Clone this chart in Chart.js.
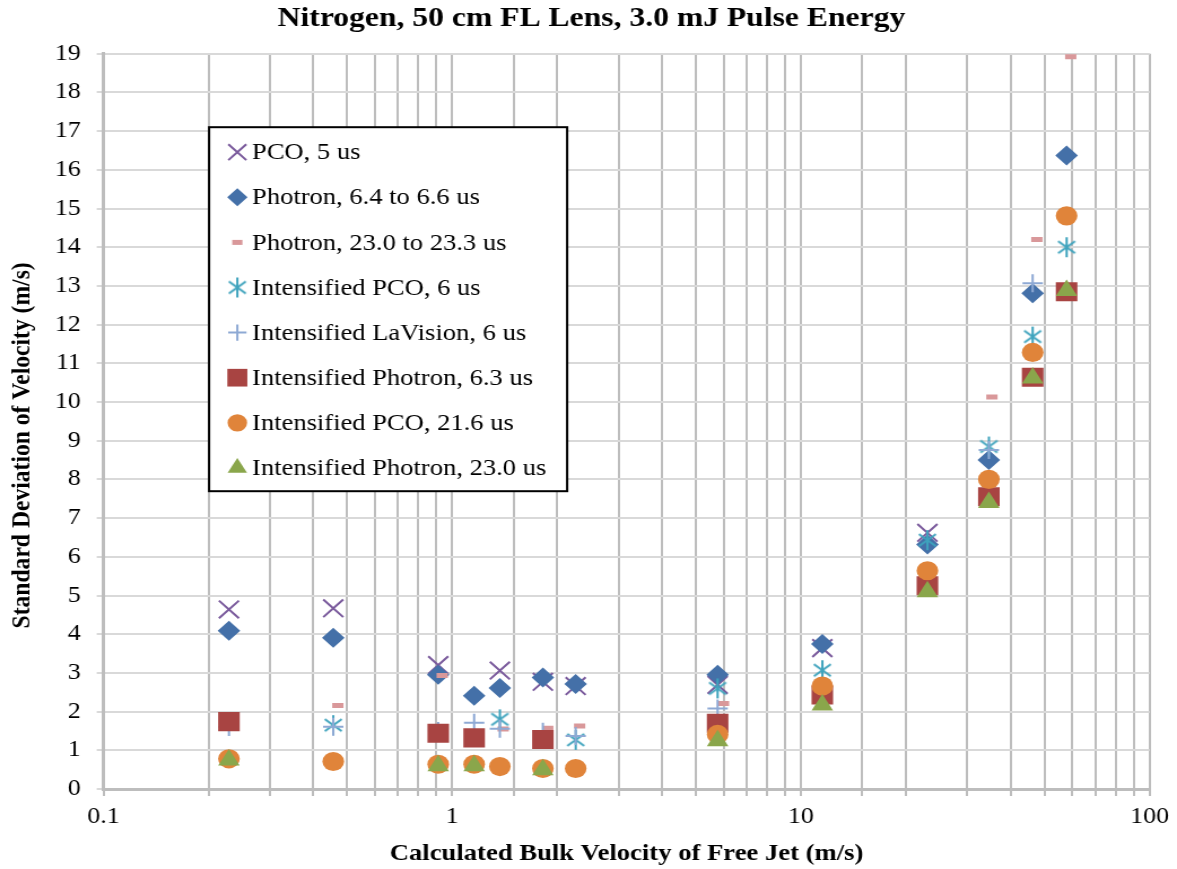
<!DOCTYPE html>
<html><head><meta charset="utf-8">
<script src="https://cdn.jsdelivr.net/npm/chart.js@4/dist/chart.umd.min.js"></script>
<style>html,body{margin:0;padding:0;background:#fff;overflow:hidden}canvas{display:block}</style>
</head><body>
<canvas id="c" width="1042" height="869" style="width:1177px;height:869px"></canvas>
<script>
const chartTitle = 'Nitrogen, 50 cm FL Lens, 3.0 mJ Pulse Energy';
const xTitle = 'Calculated Bulk Velocity of Free Jet (m/s)';
const yTitle = 'Standard Deviation of Velocity (m/s)';
const xTickLabels = [0.1, 1, 10, 100];

const bulkVelocity = [0.229, 0.456, 0.912, 1.156, 1.37, 1.82, 2.26, 5.77, 11.52, 23.06, 34.6, 46.2, 57.8];
const bulkVelocityPhotron23 = [0.47, 0.936, 1.40, 1.88, 2.32, 6.0, 35.3, 47.5, 59.4];

const seriesNames = [
  'PCO, 5 us',
  'Photron, 6.4 to 6.6 us',
  'Photron, 23.0 to 23.3 us',
  'Intensified PCO, 6 us',
  'Intensified LaVision, 6 us',
  'Intensified Photron, 6.3 us',
  'Intensified PCO, 21.6 us',
  'Intensified Photron, 23.0 us'
];
const pco5 =          [4.64, 4.67, 3.20, null, 3.06, 2.77, 2.66, 2.69, 3.64, 6.62, null, null, null];
const photron6 =      [4.09, 3.91, 2.95, 2.41, 2.61, 2.88, 2.71, 2.95, 3.75, 6.32, 8.50, 12.81, 16.37];
const photron23 =     [2.16, 2.93, 1.55, 1.57, 1.63, 2.21, 10.13, 14.2, 18.92];
const intPco6 =       [null, 1.65, null, null, 1.80, null, 1.27, 2.60, 3.07, 6.43, 8.85, 11.69, 14.0];
const intLaVision6 =  [1.60, 1.61, 1.50, 1.71, 1.56, 1.48, 1.37, 2.08, null, null, 8.76, 13.07, null];
const intPhotron63 =  [1.74, null, 1.44, 1.32, null, 1.28, null, 1.70, 2.43, 5.25, 7.55, 10.64, 12.85];
const intPco216 =     [0.78, 0.71, 0.64, 0.64, 0.58, 0.53, 0.53, 1.41, 2.66, 5.64, 8.00, 11.28, 14.81];
const intPhotron230 = [0.75, null, 0.60, 0.60, null, 0.50, null, 1.25, 2.17, 5.10, 7.40, 10.62, 12.88];

function pts(xs, ys) {
  const out = [];
  for (let i = 0; i < ys.length; i++) if (ys[i] !== null) out.push({x: xs[i], y: ys[i]});
  return out;
}

// asterisk marker (X plus vertical bar)
function makeAsterisk(color) {
  const c = document.createElement('canvas');
  c.width = 20; c.height = 22;
  const g = c.getContext('2d');
  g.strokeStyle = color; g.lineWidth = 2;
  g.beginPath();
  g.moveTo(10, 1); g.lineTo(10, 21);
  g.moveTo(2.5, 5); g.lineTo(17.5, 17);
  g.moveTo(17.5, 5); g.lineTo(2.5, 17);
  g.stroke();
  return c;
}
const asterisk = makeAsterisk('#3ea3bd');

const serif = "'Liberation Serif', 'Times New Roman', serif";

const datasets = [
  {label: seriesNames[0], data: pts(bulkVelocity, pco5), pointStyle: 'crossRot', radius: 12.5, borderColor: '#7a5a9c', backgroundColor: '#7a5a9c', borderWidth: 2},
  {label: seriesNames[1], data: pts(bulkVelocity, photron6), pointStyle: 'rectRot', radius: 10, borderColor: '#4470a8', backgroundColor: '#4470a8', borderWidth: 0},
  {label: seriesNames[2], data: pts(bulkVelocityPhotron23, photron23), pointStyle: 'line', radius: 5, borderColor: '#d9989a', backgroundColor: '#d9989a', borderWidth: 5},
  {label: seriesNames[3], data: pts(bulkVelocity, intPco6), pointStyle: asterisk, radius: 11, borderColor: '#3ea3bd', backgroundColor: '#3ea3bd', borderWidth: 2},
  {label: seriesNames[4], data: pts(bulkVelocity, intLaVision6), pointStyle: 'cross', radius: 9, borderColor: '#8ea9d4', backgroundColor: '#8ea9d4', borderWidth: 2},
  {label: seriesNames[5], data: pts(bulkVelocity, intPhotron63), pointStyle: 'rect', radius: 13.5, borderColor: '#a84442', backgroundColor: '#a84442', borderWidth: 0},
  {label: seriesNames[6], data: pts(bulkVelocity, intPco216), pointStyle: 'circle', radius: 9.6, borderColor: '#e0843a', backgroundColor: '#e0843a', borderWidth: 0},
  {label: seriesNames[7], data: pts(bulkVelocity, intPhotron230), pointStyle: 'triangle', radius: 11, borderColor: '#8aa64b', backgroundColor: '#8aa64b', borderWidth: 0}
];
datasets.forEach((d, i) => {
  d.order = 8 - i;
  d.pointRadius = d.radius;
  d.pointHoverRadius = d.radius;
  d.showLine = false;
});

const boxLegend = {
  id: 'boxLegend',
  afterDatasetsDraw(chart) {
    const ctx = chart.ctx;
    const a = chart.chartArea;
    const x0 = a.left + 93.5, y0 = a.top + 73.5, w = 317, h = 364;
    ctx.save();
    ctx.fillStyle = '#fff';
    ctx.fillRect(x0, y0, w, h);
    ctx.strokeStyle = '#000';
    ctx.lineWidth = 2;
    ctx.strokeRect(x0, y0, w, h);
    ctx.font = '23.5px ' + serif;
    ctx.textBaseline = 'middle';
    chart.data.datasets.forEach((d, i) => {
      const cy = y0 + 25 + i * 45.1;
      const mx = x0 + 25;
      const r = d.pointStyle === 'rect' ? 12.5 : d.radius * 0.9;
      ctx.fillStyle = d.backgroundColor;
      ctx.strokeStyle = d.borderColor;
      ctx.lineWidth = d.borderWidth;
      Chart.helpers.drawPoint(ctx, {pointStyle: d.pointStyle, radius: r, rotation: 0, borderWidth: d.borderWidth}, mx, cy);
      ctx.fillStyle = '#000';
      ctx.fillText(d.label, x0 + 38, cy + 1);
    });
    ctx.restore();
  }
};

const titlesPlugin = {
  id: 'titlesPlugin',
  afterDraw(chart) {
    const ctx = chart.ctx;
    const a = chart.chartArea;
    ctx.save();
    ctx.fillStyle = '#000';
    ctx.textAlign = 'center';
    ctx.textBaseline = 'middle';
    // chart title
    ctx.font = 'bold 28px ' + serif;
    ctx.fillText(chartTitle, 523.6, 19);
    // y axis title
    ctx.translate(19.5, (a.top + a.bottom) / 2 + 24);
    ctx.rotate(-Math.PI / 2);
    ctx.font = 'bold 23.6px ' + serif;
    ctx.fillText(yTitle, 0, 0);
    ctx.restore();
  }
};

new Chart(document.getElementById('c'), {
  type: 'scatter',
  data: {datasets},
  plugins: [boxLegend, titlesPlugin],
  options: {
    responsive: false,
    animation: false,
    devicePixelRatio: 1,
    layout: {padding: {left: 0, right: 22, top: 53.7, bottom: 0}},
    plugins: {
      legend: {display: false},
      tooltip: {enabled: false},
      title: {display: false}
    },
    scales: {
      x: {
        type: 'logarithmic', min: 0.1, max: 100,
        afterFit(s) { s.height = 80; },
        grid: {color: '#bdbdbd', lineWidth: 2, tickLength: 7, drawTicks: true},
        border: {color: '#bdbdbd', width: 3},
        ticks: {
          autoSkip: false, maxRotation: 0, color: '#000', padding: 7,
          font: {family: serif, size: 23},
          callback(v) { const n = Number(v.toPrecision(3)); return xTickLabels.includes(n) ? String(n) : ''; }
        },
        title: {display: true, text: xTitle, color: '#000', font: {family: serif, size: 23.6, weight: 'bold'}, padding: {top: 0, bottom: 1}}
      },
      y: {
        min: 0, max: 19,
        afterFit(s) { s.width = 91.6; },
        grid: {color: '#d9d9d9', lineWidth: 2, tickLength: 6},
        border: {color: '#bdbdbd', width: 3},
        ticks: {stepSize: 1, color: '#000', padding: 14, font: {family: serif, size: 23}},
        title: {display: false}
      }
    }
  }
});
</script>
</body></html>
